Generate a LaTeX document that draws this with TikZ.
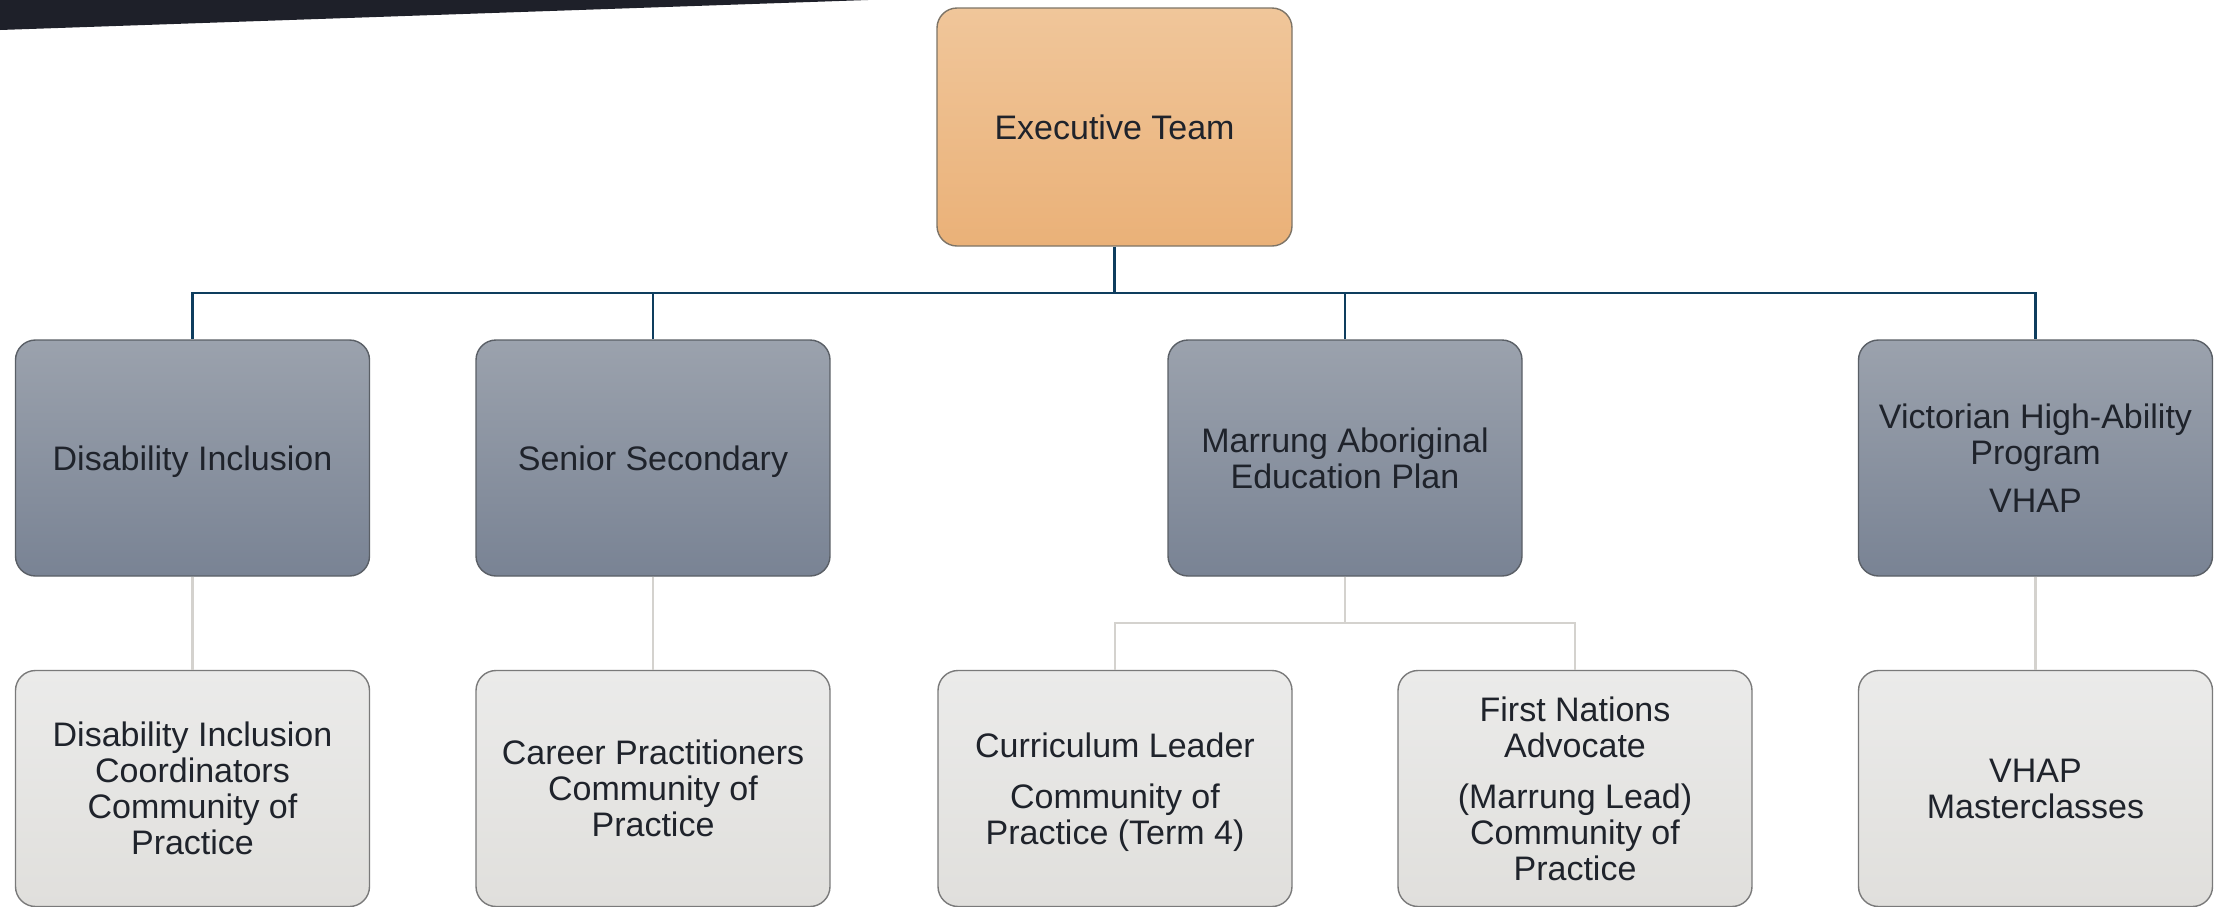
\documentclass[tikz,border=0pt]{standalone}
\usepackage{fontspec}
\setmainfont{Liberation Sans}
\definecolor{bandcol}{HTML}{1E2029}
\definecolor{txtcol}{HTML}{1F232B}
\definecolor{execTop}{HTML}{F0C69A}
\definecolor{execBot}{HTML}{EAB178}
\definecolor{execLine}{HTML}{7D7467}
\definecolor{grayTop}{HTML}{9BA2AD}
\definecolor{grayBot}{HTML}{798394}
\definecolor{grayLine}{HTML}{5A5F66}
\definecolor{lightTop}{HTML}{EBEBEA}
\definecolor{lightBot}{HTML}{E0DFDC}
\definecolor{lightLine}{HTML}{7A7A7A}
\definecolor{busCol}{HTML}{0E3D5E}
\definecolor{subCol}{HTML}{D4D2CE}
\tikzset{
  x=1pt, y=-1pt,
  box/.style={rounded corners=20pt, line width=1.4pt, inner sep=0pt,
    align=center, text=txtcol, text depth=0pt,
    font=\fontsize{34}{36}\selectfont,
    minimum width=354pt, minimum height=236pt},
  execbox/.style={box, draw=execLine, top color=execTop, bottom color=execBot,
    minimum width=355pt, minimum height=238pt},
  unitbox/.style={box, draw=grayLine, top color=grayTop, bottom color=grayBot},
  groupbox/.style={box, draw=lightLine, top color=lightTop, bottom color=lightBot},
  bus/.style={draw=busCol, line width=2.7pt},
  sub/.style={draw=subCol, line width=2.5pt},
}
\begin{document}
\begin{tikzpicture}
\useasboundingbox (0,0) rectangle (2221,906);
% dark corner band
\fill[bandcol] (0,0) -- (868,0) -- (0,30) -- cycle;

% top level
\node[execbox] (exec) at (1114.5,127) {Executive Team};

% second level
\node[unitbox] (g1) at (192.5,458) {Disability Inclusion};
\node[unitbox] (g2) at (653,458) {Senior Secondary};
\node[unitbox] (g3) at (1345,458) {Marrung Aboriginal\\Education Plan};
\node[unitbox] (g4) at (2035.5,458) {Victorian High-Ability\\Program\\[12pt]VHAP};

% third level
\node[groupbox] (l1) at (192.5,788.5) {Disability Inclusion\\Coordinators\\Community of\\Practice};
\node[groupbox] (l2) at (653,788.5) {Career Practitioners\\Community of\\Practice};
\node[groupbox] (l3) at (1115,788.5) {Curriculum Leader\\[15pt]Community of\\Practice (Term 4)};
\node[groupbox] (l4) at (1575,788.5) {First Nations\\Advocate\\[15pt](Marrung Lead)\\Community of\\Practice};
\node[groupbox] (l5) at (2035.5,788.5) {VHAP\\Masterclasses};

% executive bus
\coordinate (busy) at (1114.5,293);
\draw[bus] (exec.south) -- (exec.south |- busy);
\draw[bus] (g1.north) -- (g1.north |- busy) -- (g4.north |- busy) -- (g4.north);
\draw[bus] (g2.north) -- (g2.north |- busy);
\draw[bus] (g3.north) -- (g3.north |- busy);

% group links
\coordinate (suby) at (1345,623);
\draw[sub] (g1.south) -- (l1.north);
\draw[sub] (g2.south) -- (l2.north);
\draw[sub] (g4.south) -- (l5.north);
\draw[sub] (g3.south) -- (suby);
\draw[sub] (l3.north) -- (l3.north |- suby) -- (l4.north |- suby) -- (l4.north);
\end{tikzpicture}
\end{document}
